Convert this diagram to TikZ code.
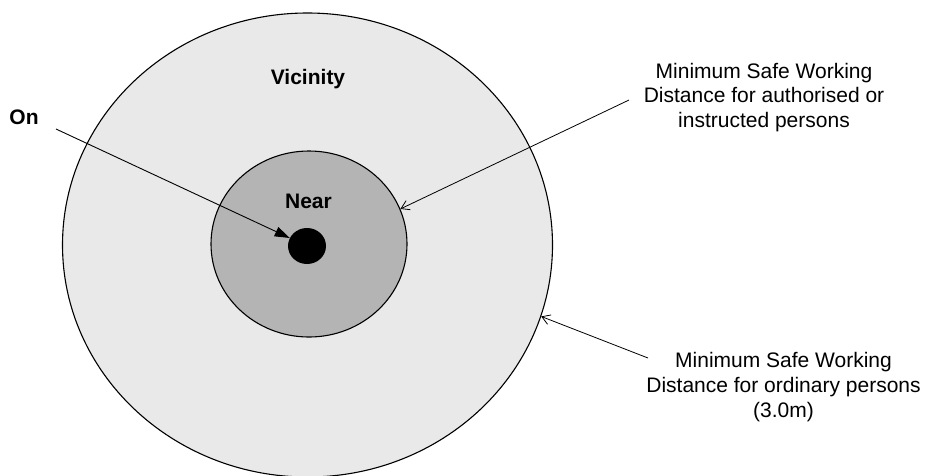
\documentclass[tikz,border=0pt]{standalone}
\usepackage{fontspec}
\setmainfont{Liberation Sans}
\usetikzlibrary{shapes.geometric,arrows.meta}
\definecolor{outerfill}{RGB}{233,233,233}
\definecolor{innerfill}{RGB}{180,180,180}
\tikzset{
  zone/.style={ellipse, draw=black, line width=1.1pt, inner sep=0pt},
  boldlabel/.style={font=\fontsize{21}{25}\selectfont\bfseries, inner sep=0pt},
  notelabel/.style={font=\fontsize{21}{24.6}\selectfont, align=center, inner sep=0pt},
  thinarrow/.style={draw=black, line width=0.8pt, -{Straight Barb[length=8pt,width=10pt,line width=0.8pt]}},
  fatarrow/.style={draw=black, line width=0.9pt, -{Triangle[length=15pt,width=10pt]}}
}
\begin{document}
\begin{tikzpicture}[x=1pt,y=-1pt]
\useasboundingbox (0,0) rectangle (925,475);
\begin{scope}
\clip (0,0) rectangle (925,475);
\node[zone, fill=outerfill, minimum width=490pt, minimum height=464pt] (outer) at (307.5,245) {};
\end{scope}
\node[zone, fill=innerfill, minimum width=196pt, minimum height=186pt] (inner) at (309,244) {};
\node[ellipse, fill=black, inner sep=0pt, minimum width=38pt, minimum height=36pt] (dot) at (307,246) {};

\node[boldlabel] (vicinity) at (308,79) {Vicinity};
\node[boldlabel] (near) at (308.5,201.5) {Near};
\node[boldlabel] (on) at (24,117.5) {On};

\node[notelabel] (note1) at (764,97.5) {Minimum Safe Working\\Distance for authorised or\\instructed persons};
\node[notelabel] (note2) at (783.5,387) {Minimum Safe Working\\Distance for ordinary persons\\(3.0m)};

\coordinate (onstart) at (56,129);
\coordinate (n1start) at (629,100);
\coordinate (n2start) at (648,358);

\draw[fatarrow] (onstart) -- (dot);
\draw[thinarrow] (n1start) -- (inner.21.6);
\draw[thinarrow] (n2start) -- (outer.-17.5);
\end{tikzpicture}
\end{document}
